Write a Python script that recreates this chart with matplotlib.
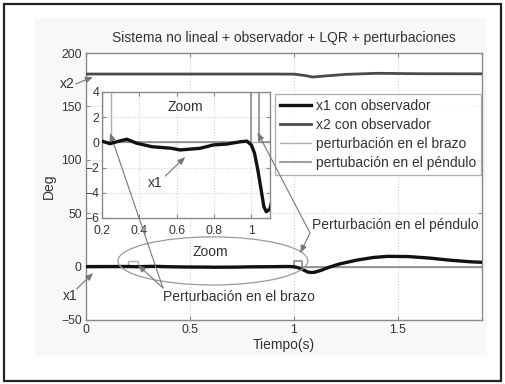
import matplotlib
matplotlib.use("Agg")
import matplotlib.pyplot as plt
from matplotlib.patches import Ellipse, Rectangle

plt.rcParams['font.family'] = ['Liberation Sans', 'DejaVu Sans']

# ---------------- data ----------------
title = "Sistema no lineal + observador + LQR + perturbaciones"
xlabel = "Tiempo(s)"
ylabel = "Deg"
legend_labels = ["x1 con observador", "x2 con observador",
                 "perturbación en el brazo", "pertubación en el péndulo"]

x1_t = [0.0, 0.1, 0.2, 0.243, 0.29, 0.333, 0.386, 0.467, 0.574, 0.617, 0.725,
        0.797, 0.87, 0.94, 0.976, 1.0, 1.017, 1.035, 1.053, 1.067, 1.08, 1.099,
        1.13, 1.17, 1.22, 1.3, 1.38, 1.45, 1.55, 1.65, 1.75, 1.85, 1.904]
x1_v = [0.0, 0.05, 0.1, -0.1, 0.1, 0.25, -0.07, -0.34, -0.47, -0.6, -0.47,
        -0.2, -0.13, 0.05, 0.1, -0.2, -0.85, -2.2, -3.8, -5.1, -5.5, -5.3,
        -3.5, -0.5, 2.5, 6.0, 8.5, 9.6, 9.4, 8.0, 6.0, 4.5, 4.0]

x2_t = [0.0, 0.9, 1.0, 1.05, 1.09, 1.15, 1.25, 1.4, 1.6, 1.904]
x2_v = [180.3, 180.3, 180.2, 179.0, 177.5, 178.5, 180.0, 181.0, 180.6, 180.5]

arm_t = [0.0, 0.2, 0.2, 0.25, 0.25, 1.904]
arm_v = [0.0, 0.0, 5.0, 5.0, 0.0, 0.0]

pend_t = [0.0, 1.0, 1.0, 1.04, 1.04, 1.904]
pend_v = [0.0, 0.0, 5.0, 5.0, 0.0, 0.0]

main_xticks = [0, 0.5, 1, 1.5]
main_yticks = [-50, 0, 50, 100, 150, 200]
inset_xticks = [0.2, 0.4, 0.6, 0.8, 1]
inset_yticks = [-6, -4, -2, 0, 2, 4]

# ---------------- figure ----------------
W, H = 506, 384
fig = plt.figure(figsize=(W / 100, H / 100), dpi=100)
fig.patch.set_facecolor('white')

def fx(px):
    return px / W

def fy(py):
    return 1 - py / H

# light grey panel and outer frame
fig.patches.append(Rectangle((fx(35), fy(356)), fx(487) - fx(35), fy(18) - fy(356),
                             transform=fig.transFigure, facecolor='#f8f8f8',
                             edgecolor='none', zorder=-10))
fig.patches.append(Rectangle((fx(4), fy(381)), fx(501) - fx(4), fy(4) - fy(381),
                             transform=fig.transFigure, facecolor='none',
                             edgecolor='#222222', linewidth=1.6, zorder=10))

spine_c = '#8a8a8a'
grid_c = '#d0d0d0'
fs_tick = 8.8
fs = 10.0
txt_c = '#333333'

ax = fig.add_axes([fx(86), fy(320), fx(482) - fx(86), fy(53) - fy(320)])
ax.set_facecolor('white')
l_arm, = ax.plot(arm_t, arm_v, color='#b0b0b0', lw=1.0, zorder=2)
l_pend, = ax.plot(pend_t, pend_v, color='#8c8c8c', lw=1.2, zorder=2)
l_x2, = ax.plot(x2_t, x2_v, color='#4a4a4a', lw=2.0, zorder=3)
l_x1, = ax.plot(x1_t, x1_v, color='#111111', lw=2.4, zorder=4)
ax.set_xlim(0, 1.904)
ax.set_ylim(-50, 200)
ax.set_xticks(main_xticks)
ax.set_xticklabels(['0', '0.5', '1', '1.5'])
ax.set_yticks(main_yticks)
ax.grid(True, color=grid_c, linestyle=':', linewidth=0.8)
ax.tick_params(direction='in', length=3, top=True, right=True, colors=spine_c,
               labelcolor=txt_c, labelsize=fs_tick, pad=3)
for s in ax.spines.values():
    s.set_color(spine_c)
    s.set_linewidth(1.0)
ax.set_title(title, fontsize=fs, color=txt_c, pad=8)
ax.set_xlabel(xlabel, fontsize=fs, color=txt_c, labelpad=1)
ax.set_ylabel(ylabel, fontsize=fs, color=txt_c, labelpad=4)

ax.add_patch(Ellipse((0.61, 5.3), 0.913, 45, facecolor='none',
                     edgecolor='#9a9a9a', linewidth=0.9, zorder=5))
ax.text(0.6, 13.8, "Zoom", fontsize=fs, color=txt_c, ha='center', va='center')

leg = ax.legend([l_x1, l_x2, l_arm, l_pend], legend_labels, loc='upper right',
                bbox_to_anchor=(fx(481), fy(94)), bbox_transform=fig.transFigure,
                fontsize=fs, frameon=True, fancybox=False, edgecolor='#9a9a9a',
                borderpad=0.35, labelspacing=0.36, handlelength=2.2,
                handletextpad=0.36, borderaxespad=0)
for t in leg.get_texts():
    t.set_color(txt_c)
leg.get_frame().set_linewidth(0.9)

# ---------------- inset ----------------
ai = fig.add_axes([fx(102), fy(218), fx(270) - fx(102), fy(92) - fy(218)])
ai.set_facecolor('white')
ai.plot(arm_t, arm_v, color='#b0b0b0', lw=1.0, zorder=2)
ai.plot(pend_t, pend_v, color='#8c8c8c', lw=1.2, zorder=2)
ai.plot(x1_t, x1_v, color='#111111', lw=2.4, zorder=4)
ai.set_xlim(0.2, 1.1)
ai.set_ylim(-6, 4)
ai.set_xticks(inset_xticks)
ai.set_xticklabels(['0.2', '0.4', '0.6', '0.8', '1'])
ai.set_yticks(inset_yticks)
ai.grid(True, color=grid_c, linestyle=':', linewidth=0.8)
ai.tick_params(direction='in', length=3, top=True, right=True, colors=spine_c,
               labelcolor=txt_c, labelsize=fs_tick)
ai.tick_params(axis='x', pad=5)
ai.tick_params(axis='y', pad=2)
for s in ai.spines.values():
    s.set_color(spine_c)
    s.set_linewidth(1.0)
ai.text(0.646, 2.8, "Zoom", fontsize=fs, color=txt_c, ha='center', va='center')

# ---------------- annotations (drawn above inset) ----------------
arr = dict(arrowstyle='-|>,head_length=0.45,head_width=0.18', color='#777777',
           lw=0.8, shrinkA=0, shrinkB=0)
T = ax.transData
Ti = ai.transData

def note(xy, xytext, xyc=T, txc=T):
    a = ai.annotate('', xy=xy, xycoords=xyc, xytext=xytext, textcoords=txc,
                    arrowprops=arr, annotation_clip=False)
    a.arrow_patch.set_clip_on(False)
    return a

# x2
ai.text(-0.052, 171, "x2", transform=T, fontsize=fs, color=txt_c,
        ha='right', va='center', clip_on=False)
note((0.034, 177.6), (-0.05, 171))
# x1 main
ai.text(-0.075, -27.6, "x1", transform=T, fontsize=fs, color=txt_c,
        ha='center', va='center', clip_on=False)
note((0.034, -6.0), (-0.045, -21.0))
# x1 inset
ai.text(0.485, -3.2, "x1", fontsize=fs, color=txt_c, ha='center', va='center')
note((0.646, -1.16), (0.539, -2.67), xyc=Ti, txc=Ti)
# arm perturbation
ai.text(0.37, -28.5, "Perturbación en el brazo", transform=T, fontsize=fs,
        color=txt_c, ha='left', va='center', clip_on=False)
note((0.25, 1.6), (0.37, -20))
note((0.243, 0.75), (0.37, -20), xyc=Ti)
# pendulum perturbation
ai.text(1.087, 39, "Perturbación en el péndulo", transform=T, fontsize=fs,
        color=txt_c, ha='left', va='center', clip_on=False)
note((1.03, 12.8), (1.077, 31.5))
note((1.033, 0.8), (1.077, 31.5), xyc=Ti)

fig.savefig("out.png", dpi=100)
